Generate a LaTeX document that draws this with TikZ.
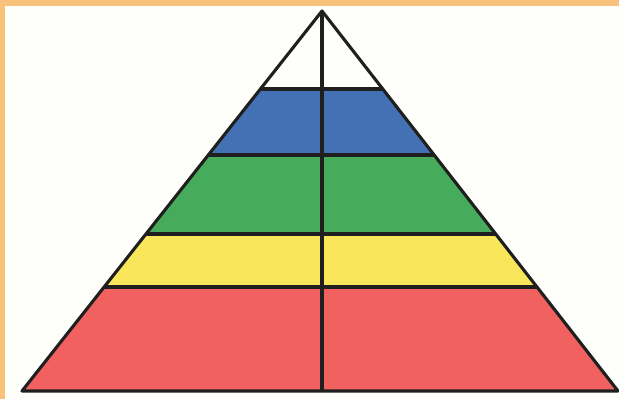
\documentclass[tikz,border=0pt]{standalone}
\usetikzlibrary{calc}
\definecolor{frameor}{HTML}{F8C27A}
\definecolor{paper}{HTML}{FEFEFB}
\definecolor{pblue}{HTML}{4470B4}
\definecolor{pgreen}{HTML}{46AB5A}
\definecolor{pyellow}{HTML}{FAE65A}
\definecolor{pred}{HTML}{F0615F}
\tikzset{edge/.style={line width=3.1pt, draw=black!88, line join=round}}
\begin{document}
\begin{tikzpicture}[x=1pt,y=-1pt]
\useasboundingbox (0,0) rectangle (619,399);
\fill[frameor] (0,0) rectangle (619,399);
\fill[paper] (5,6) rectangle (619,399);
\coordinate (apex) at (322,11);
\coordinate (bl) at (22,391);
\coordinate (br) at (618,391);
% band boundaries: fraction t = (y-11)/380
\foreach \n/\t in {a/0.2053, b/0.3790, c/0.5868, d/0.7263}{
  \coordinate (L\n) at ($(apex)!\t!(bl)$);
  \coordinate (R\n) at ($(apex)!\t!(br)$);
}
\fill[pblue] (La) -- (Ra) -- (Rb) -- (Lb) -- cycle;
\fill[pgreen] (Lb) -- (Rb) -- (Rc) -- (Lc) -- cycle;
\fill[pyellow] (Lc) -- (Rc) -- (Rd) -- (Ld) -- cycle;
\fill[pred] (Ld) -- (Rd) -- (br) -- (bl) -- cycle;
\foreach \n in {a,b,c,d}{ \draw[edge] (L\n) -- (R\n); }
\draw[edge] (apex) -- (bl) -- (br) -- cycle;
\coordinate (basemid) at (322,391);
\draw[edge] (apex) -- (basemid);
\end{tikzpicture}
\end{document}
